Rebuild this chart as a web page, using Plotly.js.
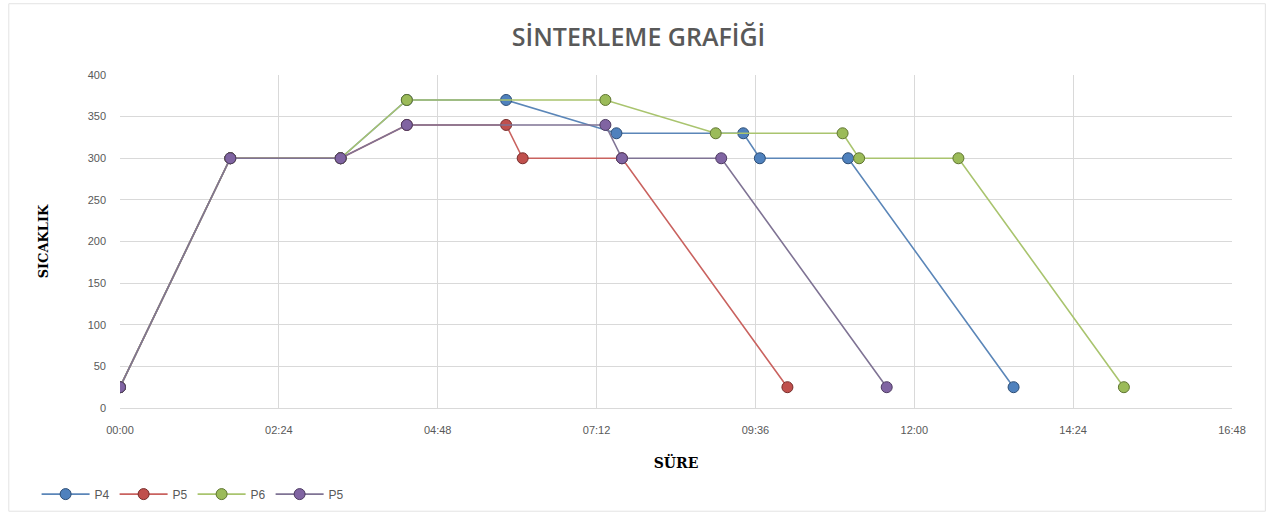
<!DOCTYPE html>
<html>
<head>
<meta charset="utf-8">
<script src="https://cdn.plot.ly/plotly-3.0.1.min.js"></script>
<style>
html,body{margin:0;padding:0;background:#fff;}
#chart{width:1277px;height:520px;}
</style>
</head>
<body>
<div id="chart"></div>
<script>
// Data (time as hh:mm, temperature)
const seriesNames = ["P4", "P5", "P6", "P5"];
const p4Time = ["00:00","01:40","03:20","04:20","05:50","07:30","09:25","09:40","11:00","13:30"];
const p4Temp = [25, 300, 300, 370, 370, 330, 330, 300, 300, 25];
const p5Time = ["00:00","01:40","03:20","04:20","05:50","06:05","07:35","10:05"];
const p5Temp = [25, 300, 300, 340, 340, 300, 300, 25];
const p6Time = ["00:00","01:40","03:20","04:20","07:20","09:00","10:55","11:10","12:40","15:10"];
const p6Temp = [25, 300, 300, 370, 370, 330, 330, 300, 300, 25];
const p6bTime = ["00:00","01:40","03:20","04:20","07:20","07:35","09:05","11:35"];
const p6bTemp = [25, 300, 300, 340, 340, 300, 300, 25];
const xTickLabels = ["00:00","02:24","04:48","07:12","09:36","12:00","14:24","16:48"];
const yTickVals = [0,50,100,150,200,250,300,350,400];

const colors = ["#4f81bd","#c0504d","#9bbb59","#8064a2"];
const lineColors = ["#5b86b8","#c9625f","#a9c46e","#7f7394"];
const edgeColors = ["#2c4d75","#772c2a","#5f7530","#4d3b62"];

const toDate = t => "2000-01-01 " + t;
const allT = [p4Time,p5Time,p6Time,p6bTime];
const allY = [p4Temp,p5Temp,p6Temp,p6bTemp];

const traces = allT.map((t,i)=>({
  type:"scatter", mode:"lines+markers", name:seriesNames[i],
  x:t.map(toDate), y:allY[i],
  line:{color:lineColors[i], width:1.6},
  marker:{symbol:"circle", size:11, color:colors[i], line:{color:edgeColors[i], width:1}}
}));

const layout = {
  width:1277, height:520,
  paper_bgcolor:"#fff", plot_bgcolor:"#fff",
  margin:{l:120, r:45, t:75, b:109},
  title:{text:"SİNTERLEME GRAFİĞİ", x:0.5, xanchor:"center", y:0.928, yanchor:"middle",
    font:{family:"Open Sans, sans-serif", size:25, color:"#595959", weight:600}},
  xaxis:{
    type:"date",
    range:[toDate("00:00"), "2000-01-01 16:48"],
    tickvals:xTickLabels.map(toDate), ticktext:xTickLabels,
    showgrid:true, gridcolor:"#d9d9d9", gridwidth:1,
    showline:true, linecolor:"#d9d9d9", zeroline:false,
    ticks:"", ticklabelstandoff:12,
    tickfont:{family:"Liberation Sans, Arial, sans-serif", size:11, color:"#595959"},
    title:{text:"SÜRE", standoff:22, font:{family:"DejaVu Serif, serif", size:14, color:"#000", weight:700}}
  },
  yaxis:{
    range:[0,400], tickvals:yTickVals,
    showgrid:true, gridcolor:"#d9d9d9", gridwidth:1,
    zeroline:false, showline:false, ticks:"", ticklabelstandoff:13,
    tickfont:{family:"Liberation Sans, Arial, sans-serif", size:11, color:"#595959"},
    title:{text:"SICAKLIK", standoff:36, font:{family:"DejaVu Serif, serif", size:13, color:"#000", weight:700}}
  },
  showlegend:true,
  legend:{orientation:"h", x:-0.075, xanchor:"left", y:-0.215, yanchor:"top",
    font:{family:"Liberation Sans, Arial, sans-serif", size:12, color:"#595959"},
    itemwidth:48, tracegroupgap:0},
  shapes:[{type:"rect", xref:"paper", yref:"paper", x0:-0.1, x1:1.03, y0:-0.31, y1:1.214,
    line:{color:"#e3e3e3", width:1}, fillcolor:"rgba(0,0,0,0)", layer:"below"}]
};

Plotly.newPlot("chart", traces, layout, {displayModeBar:false, staticPlot:true});
</script>
</body>
</html>
